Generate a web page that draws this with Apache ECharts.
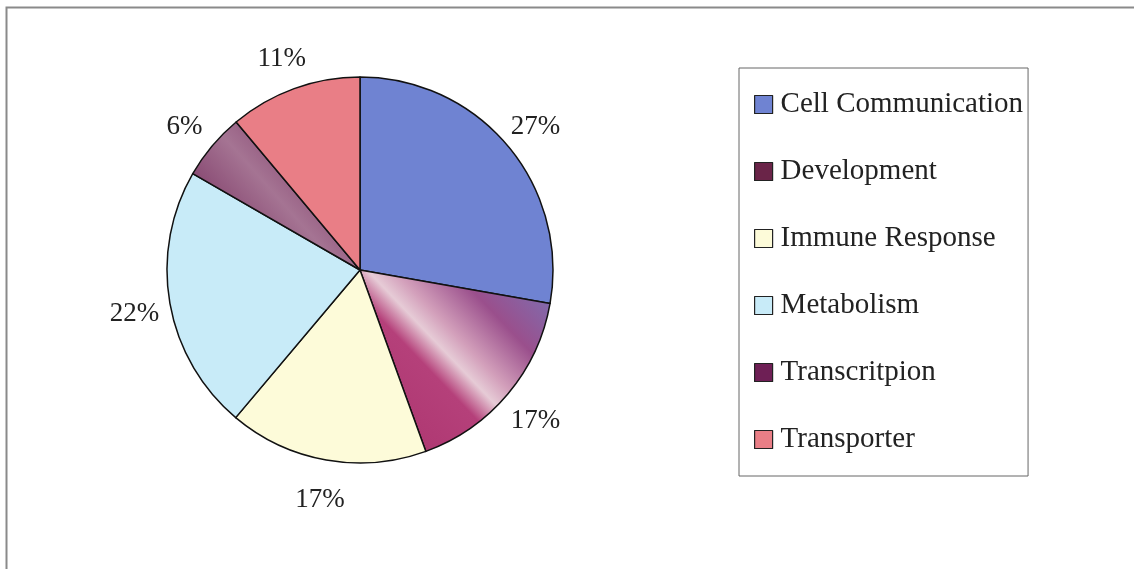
<!DOCTYPE html>
<html>
<head>
<meta charset="utf-8">
<script src="https://cdn.jsdelivr.net/npm/echarts@6/dist/echarts.min.js"></script>
<style>
html,body{margin:0;padding:0;background:#fff;}
#chart{width:1134px;height:569px;}
</style>
</head>
<body>
<div id="chart"></div>
<script>
// Data (slice shares, clockwise from 12 o'clock)
var categories = ['Cell Communication', 'Development', 'Immune Response', 'Metabolism', 'Transcritpion', 'Transporter'];
var shares = [27.8, 16.7, 16.7, 22.2, 5.6, 11.1];
var labelTexts = ['27%', '17%', '17%', '22%', '6%', '11%'];

var fills = [
  '#6f83d2',
  {type:'linear', x:1, y:0, x2:0.1, y2:0.9, colorStops:[
    {offset:0, color:'#7677bb'}, {offset:0.3, color:'#9a4f8c'},
    {offset:0.48, color:'#d3a0bb'}, {offset:0.56, color:'#e6cbd6'},
    {offset:0.66, color:'#b5407a'}, {offset:1, color:'#ad3670'}]},
  '#fdfbd9',
  '#c8ebf8',
  {type:'linear', x:0, y:1, x2:1, y2:0, colorStops:[
    {offset:0, color:'#66174c'}, {offset:0.5, color:'#a57493'}, {offset:1, color:'#66174c'}]},
  '#e97e86'
];
var legendIcons = ['#6f83d2', '#6a2448', '#fdfbd9', '#c8ebf8', '#6e1f55', '#e97e86'];

var mainData = categories.map(function(c, i){
  return {name:c, value:shares[i], itemStyle:{color:fills[i]}};
});
var labelData = categories.map(function(c, i){
  return {name:c, value:shares[i], label:{formatter:labelTexts[i]}};
});

var chart = echarts.init(document.getElementById('chart'), null, {renderer:'canvas'});
chart.setOption({
  backgroundColor:'#ffffff',
  animation:false,
  graphic:[{
    type:'rect', silent:true, z:-10,
    shape:{x:6.5, y:7.5, width:1300, height:800},
    style:{fill:'none', stroke:'#8a8a8a', lineWidth:2}
  }],
  legend:{
    orient:'vertical',
    left:739, top:68,
    padding:[22, 5, 22, 15],
    borderColor:'#666', borderWidth:1,
    itemWidth:18, itemHeight:18, itemGap:38,
    icon:'rect',
    itemStyle:{borderColor:'#222', borderWidth:1.2},
    textStyle:{fontFamily:'Liberation Serif', fontSize:29, color:'#222', padding:[0,0,0,3]},
    data: categories.map(function(c, i){ return {name:c, itemStyle:{color:legendIcons[i]}}; })
  },
  series:[{
    type:'pie',
    center:[360, 270],
    radius:193,
    startAngle:90,
    clockwise:true,
    silent:true,
    label:{show:false},
    labelLine:{show:false},
    itemStyle:{borderColor:'#111', borderWidth:1.5},
    data:mainData
  },{
    type:'pie',
    center:[360, 274],
    radius:[208, 244],
    startAngle:90,
    clockwise:true,
    silent:true,
    itemStyle:{color:'rgba(0,0,0,0)', borderWidth:0},
    label:{show:true, position:'inside', fontFamily:'Liberation Serif', fontSize:27, color:'#222'},
    labelLine:{show:false},
    data:labelData
  }]
});
</script>
</body>
</html>
